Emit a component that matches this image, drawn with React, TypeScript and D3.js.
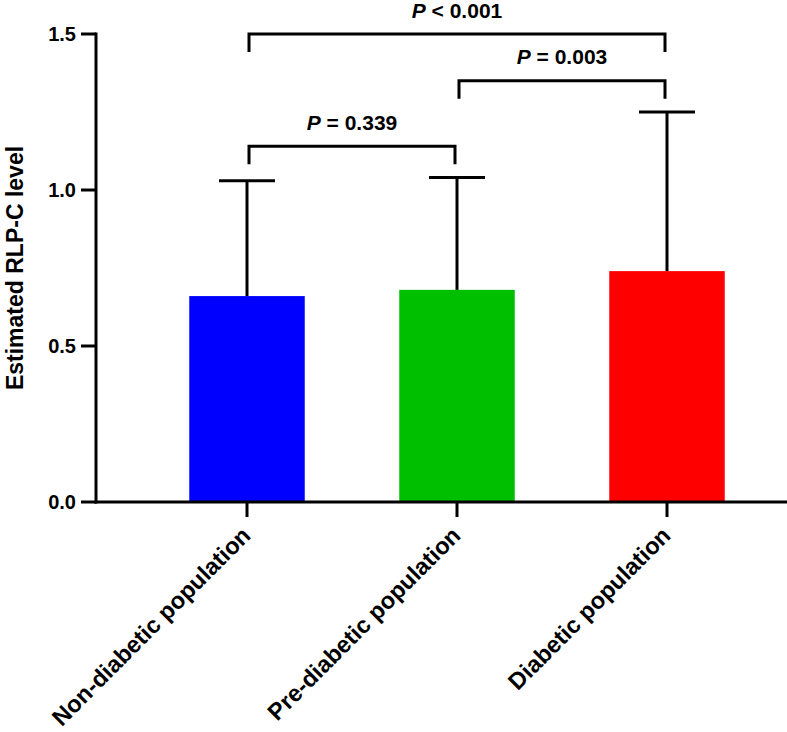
import React from "react";
import * as d3 from "d3";

const categories = ["Non-diabetic population", "Pre-diabetic population", "Diabetic population"];
const means = [0.66, 0.68, 0.74];
const upperSD = [1.03, 1.04, 1.25];
const colors = ["#0000FF", "#00BF00", "#FF0000"];
const yTicks = [0, 0.5, 1.0, 1.5];
const comparisons = [
  { from: 0, to: 2, level: 1.5, label: "< 0.001" },
  { from: 1, to: 2, level: 1.35, label: "= 0.003" },
  { from: 0, to: 1, level: 1.14, label: "= 0.339" },
];

const FONT = "'Liberation Sans', Arial, Helvetica, sans-serif";

export default function App() {
  const W = 787, H = 732;
  const axisX = 96;
  const y = d3.scaleLinear().domain([0, 1.5]).range([502, 34]);
  const x = d3.scaleBand<string>().domain(categories).range([142, 772]).padding(0);
  const cx = (c: string) => (x(c) as number) + x.bandwidth() / 2;
  const barW = x.bandwidth() * 0.55;
  const capHalf = 28;
  const bracketDrop = 18;
  const sw = 3;
  const fmt = d3.format(".1f");

  return (
    <svg width={W} height={H} style={{ position: "absolute", left: 0, top: 0, background: "#fff" }} fontFamily={FONT}>
      {/* bars */}
      {categories.map((c, i) => (
        <rect key={c} x={cx(c) - barW / 2} y={y(means[i])} width={barW} height={y(0) - y(means[i])} fill={colors[i]} />
      ))}
      {/* error bars */}
      {categories.map((c, i) => (
        <g key={"e" + c} stroke="#000" strokeWidth={sw}>
          <line x1={cx(c)} x2={cx(c)} y1={y(means[i])} y2={y(upperSD[i])} />
          <line x1={cx(c) - capHalf} x2={cx(c) + capHalf} y1={y(upperSD[i])} y2={y(upperSD[i])} />
        </g>
      ))}
      {/* y axis */}
      <line x1={axisX} x2={axisX} y1={y(1.5) - 1.5} y2={y(0) + 1.5} stroke="#000" strokeWidth={sw} />
      {yTicks.map((t) => (
        <g key={t}>
          <line x1={axisX - 15} x2={axisX} y1={y(t)} y2={y(t)} stroke="#000" strokeWidth={sw} />
          <text x={axisX - 20} y={y(t)} dy="0.36em" textAnchor="end" fontSize={20} fontWeight="bold" fill="#000">
            {fmt(t)}
          </text>
        </g>
      ))}
      {/* x axis */}
      <line x1={axisX - 1.5} x2={W} y1={y(0)} y2={y(0)} stroke="#000" strokeWidth={sw} />
      {categories.map((c) => (
        <g key={"t" + c}>
          <line x1={cx(c)} x2={cx(c)} y1={y(0)} y2={y(0) + 15} stroke="#000" strokeWidth={sw} />
          <text
            transform={`translate(${cx(c) + 5},${y(0) + 35}) rotate(-45)`}
            textAnchor="end"
            fontSize={23.5}
            fontWeight="bold"
            fill="#000"
          >
            {c}
          </text>
        </g>
      ))}
      {/* y title */}
      <text transform={`translate(23,${y(0.75)}) rotate(-90)`} textAnchor="middle" fontSize={23} fontWeight="bold" fill="#000">
        Estimated RLP-C level
      </text>
      {/* brackets */}
      {comparisons.map((cmp, k) => {
        const x1 = cx(categories[cmp.from]) + 2;
        const x2 = cx(categories[cmp.to]) - 2;
        const yy = y(cmp.level);
        return (
          <g key={"b" + k}>
            <path
              d={`M${x1},${yy + bracketDrop}V${yy}H${x2}V${yy + bracketDrop}`}
              fill="none"
              stroke="#000"
              strokeWidth={sw}
            />
            <text x={(x1 + x2) / 2} y={yy - 16.5} textAnchor="middle" fontSize={21} fontWeight="bold" fill="#000">
              <tspan fontStyle="italic">P</tspan>
              <tspan> {cmp.label}</tspan>
            </text>
          </g>
        );
      })}
    </svg>
  );
}
